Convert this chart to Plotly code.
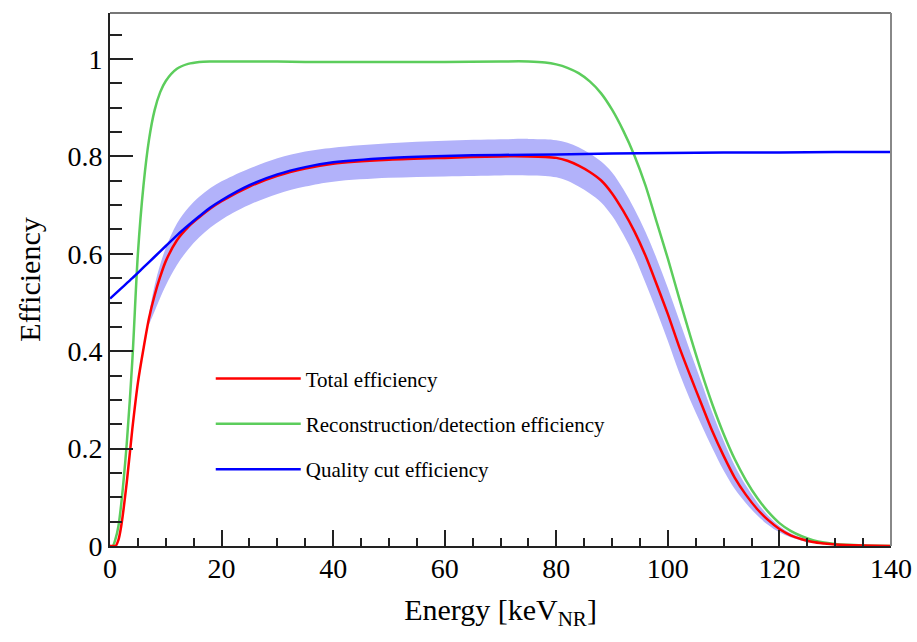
import plotly.graph_objects as go

# ---------------- data ----------------
energy = [0, 0.5, 1, 1.5, 2, 3, 4, 5, 6, 7, 8, 9, 10, 12, 14, 16, 18, 20, 25, 30,
          35, 40, 50, 60, 70, 75, 78, 80, 82, 84, 86, 88, 90, 92, 94, 96, 98, 100,
          102, 104, 106, 108, 110, 112, 114, 116, 118, 120, 122, 124, 126, 128,
          130, 135, 140]

eff_reco = [0.0, 0.0, 0.015, 0.04, 0.085, 0.21, 0.38, 0.60, 0.74, 0.835, 0.895,
            0.932, 0.955, 0.98, 0.99, 0.994, 0.995, 0.995, 0.995, 0.995, 0.994,
            0.994, 0.994, 0.994, 0.995, 0.995, 0.993, 0.989, 0.982, 0.971, 0.954,
            0.93, 0.896, 0.853, 0.802, 0.74, 0.665, 0.59, 0.51, 0.432, 0.358, 0.29,
            0.23, 0.178, 0.135, 0.099, 0.07, 0.047, 0.031, 0.02, 0.012, 0.007,
            0.004, 0.001, 0.0]

eff_total = [0.0, 0.0, 0.0, 0.012, 0.04, 0.13, 0.24, 0.335, 0.405, 0.468, 0.515,
             0.553, 0.585, 0.628, 0.655, 0.675, 0.693, 0.708, 0.738, 0.76, 0.775,
             0.785, 0.793, 0.797, 0.80, 0.80, 0.799, 0.797, 0.791, 0.781, 0.768,
             0.751, 0.724, 0.688, 0.646, 0.596, 0.537, 0.476, 0.41, 0.35, 0.292,
             0.235, 0.185, 0.14, 0.105, 0.076, 0.053, 0.035, 0.022, 0.014, 0.008,
             0.005, 0.003, 0.001, 0.0]

energy_cut = [0, 2, 4, 6, 8, 10, 12, 14, 16, 18, 20, 25, 30, 35, 40, 50, 60, 70,
              80, 90, 100, 110, 120, 130, 140]
eff_cut = [0.508, 0.529, 0.55, 0.572, 0.594, 0.616, 0.638, 0.658, 0.677, 0.695,
           0.71, 0.741, 0.763, 0.778, 0.788, 0.797, 0.801, 0.803, 0.804, 0.806,
           0.807, 0.808, 0.808, 0.809, 0.809]

energy_band = [7, 8, 9, 10, 12, 14, 16, 18, 20, 22, 25, 30, 35, 40, 50, 60, 70, 75,
               78, 80, 82, 84, 86, 88, 90, 92, 94, 96, 98, 100, 102, 104, 106, 108,
               110, 112, 114, 116, 118, 120, 122, 124, 126, 128, 130, 135, 140]
band_upper = [0.478, 0.535, 0.578, 0.612, 0.662, 0.694, 0.717, 0.735, 0.749, 0.76,
              0.775, 0.796, 0.81, 0.818, 0.827, 0.832, 0.835, 0.836, 0.835, 0.833,
              0.828, 0.819, 0.806, 0.79, 0.767, 0.733, 0.692, 0.645, 0.59, 0.53,
              0.465, 0.4, 0.337, 0.273, 0.216, 0.165, 0.124, 0.09, 0.062, 0.041,
              0.026, 0.017, 0.01, 0.006, 0.004, 0.001, 0.0]
band_lower = [0.455, 0.482, 0.51, 0.535, 0.577, 0.609, 0.634, 0.654, 0.67, 0.684,
              0.701, 0.723, 0.738, 0.748, 0.756, 0.759, 0.761, 0.761, 0.76, 0.757,
              0.75, 0.738, 0.724, 0.706, 0.678, 0.64, 0.595, 0.54, 0.482, 0.421,
              0.357, 0.3, 0.249, 0.2, 0.155, 0.117, 0.088, 0.063, 0.043, 0.028,
              0.018, 0.011, 0.006, 0.004, 0.002, 0.001, 0.0]

names = ["Total efficiency", "Reconstruction/detection efficiency",
         "Quality cut efficiency"]

x_ticks = [0, 20, 40, 60, 80, 100, 120, 140]
y_ticks = [0, 0.2, 0.4, 0.6, 0.8, 1.0]
y_tick_labels = ["0", "0.2", "0.4", "0.6", "0.8", "1"]

# ---------------- styles ----------------
RED = "rgb(255,0,0)"
GREEN = "rgb(92,205,92)"
BLUE = "rgb(0,0,255)"
BAND = "rgb(178,178,250)"
FONT = "Liberation Serif"

fig = go.Figure()

# uncertainty band
fig.add_trace(go.Scatter(x=energy_band, y=band_lower, mode="lines",
                         line=dict(width=0, color=BAND, shape="spline"),
                         showlegend=False, hoverinfo="skip"))
fig.add_trace(go.Scatter(x=energy_band, y=band_upper, mode="lines",
                         line=dict(width=0, color=BAND, shape="spline"),
                         fill="tonexty", fillcolor=BAND,
                         showlegend=False, hoverinfo="skip"))

fig.add_trace(go.Scatter(x=energy, y=eff_reco, mode="lines", name=names[1],
                         line=dict(color=GREEN, width=2.5, shape="spline", smoothing=0.8),
                         legendgroup="g2", legendrank=2))
fig.add_trace(go.Scatter(x=energy, y=eff_total, mode="lines", name=names[0],
                         line=dict(color=RED, width=2.5, shape="spline", smoothing=0.8),
                         legendgroup="g1", legendrank=1))
fig.add_trace(go.Scatter(x=energy_cut, y=eff_cut, mode="lines", name=names[2],
                         line=dict(color=BLUE, width=2.5, shape="spline", smoothing=0.8),
                         legendgroup="g3", legendrank=3))

fig.update_layout(
    width=917, height=642,
    margin=dict(l=110, r=26, t=13, b=96),
    paper_bgcolor="white", plot_bgcolor="white",
    font=dict(family=FONT, color="black"),
    showlegend=True,
    legend=dict(x=0.129, y=0.352, xanchor="left", yanchor="top",
                bgcolor="rgba(0,0,0,0)", font=dict(family=FONT, size=21),
                itemwidth=85, tracegroupgap=15, traceorder="grouped"),
    xaxis=dict(range=[0, 140], tickvals=x_ticks, ticks="inside", ticklen=16,
               tickwidth=2, tickcolor="#222", automargin=False,
               minor=dict(dtick=5, ticks="inside", ticklen=8, tickwidth=2,
                          tickcolor="#222"),
               showline=True, linecolor="#222", linewidth=2, showgrid=False,
               zeroline=False, tickfont=dict(size=28, family=FONT),
               ticklabelstandoff=-4,
               title=dict(text="Energy [keV<sub>NR</sub>]",
                          font=dict(size=30, family=FONT), standoff=16)),
    yaxis=dict(range=[0, 1.0945], tickvals=y_ticks, ticktext=y_tick_labels,
               ticks="inside", ticklen=23, tickwidth=2, tickcolor="#222",
               automargin=False,
               minor=dict(dtick=0.05, ticks="inside", ticklen=12, tickwidth=2,
                          tickcolor="#222"),
               showline=True, linecolor="#222", linewidth=2, showgrid=False,
               zeroline=False, tickfont=dict(size=28, family=FONT),
               title=dict(text="Efficiency", font=dict(size=30, family=FONT),
                          standoff=18)),
)

# frame (top and right, grey)
fig.add_shape(type="line", xref="paper", yref="paper", x0=0, x1=1, y0=1, y1=1,
              line=dict(color="#777", width=2))
fig.add_shape(type="line", xref="paper", yref="paper", x0=1, x1=1, y0=0, y1=1,
              line=dict(color="#888", width=2))

fig.write_html("out.html", config={"displayModeBar": False},
               post_script="document.body.style.margin='0px';")
